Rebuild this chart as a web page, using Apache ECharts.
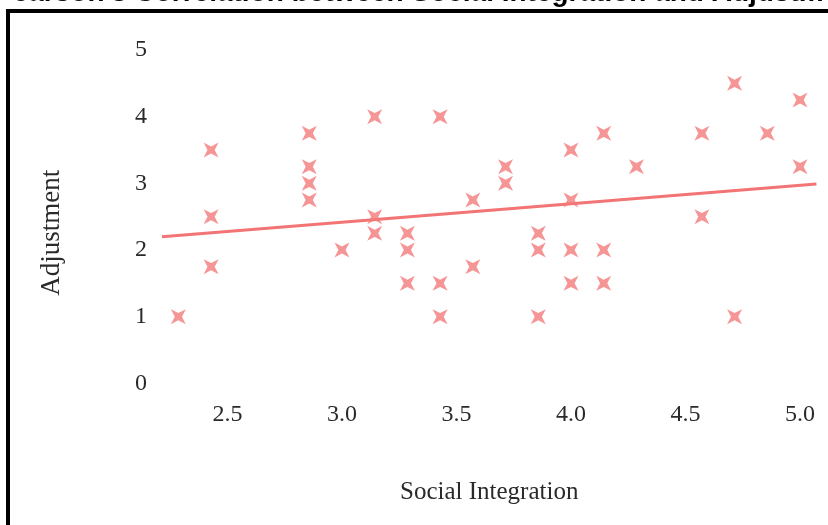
<!DOCTYPE html>
<html>
<head>
<meta charset="utf-8">
<script src="https://cdn.jsdelivr.net/npm/echarts@6/dist/echarts.min.js"></script>
<style>
  html, body { margin: 0; padding: 0; background: #ffffff; }
  #scatter { width: 828px; height: 525px; }
</style>
</head>
<body>
<div id="scatter"></div>
<script>
// social integration scores (steps of 1/7) and adjustment scores
var socialIntegration = [
  16/7, 17/7, 17/7, 17/7, 20/7, 20/7, 20/7, 20/7, 21/7, 22/7,
  22/7, 22/7, 23/7, 23/7, 23/7, 24/7, 24/7, 24/7, 25/7, 25/7,
  26/7, 26/7, 27/7, 27/7, 27/7, 28/7, 28/7, 28/7, 28/7, 29/7,
  29/7, 29/7, 30/7, 32/7, 32/7, 33/7, 33/7, 34/7, 35/7, 35/7
];
var adjustment = [
  1.0, 3.5, 2.5, 1.75, 3.75, 3.25, 3.0, 2.75, 2.0, 4.0,
  2.5, 2.25, 2.25, 2.0, 1.5, 4.0, 1.5, 1.0, 2.75, 1.75,
  3.25, 3.0, 2.25, 2.0, 1.0, 3.5, 2.75, 2.0, 1.5, 3.75,
  2.0, 1.5, 3.25, 3.75, 2.5, 4.5, 1.0, 3.75, 4.25, 3.25
];
// fitted line, read at both ends of the x domain
var fitX = [15.5/7, 35.5/7];
var fitY = [2.20, 2.99];
var xTicks = [2.5, 3.0, 3.5, 4.0, 4.5, 5.0];

var points = [];
for (var i = 0; i < socialIntegration.length; i++) {
  points.push([socialIntegration[i], adjustment[i]]);
}
var fitLine = [[fitX[0], fitY[0]], [fitX[1], fitY[1]]];

// four pointed star turned 45 degrees, like a fat x
var starPath = 'path://M0,0 L10,5.2 L20,0 L14.8,10 L20,20 L10,14.8 L0,20 L5.2,10 Z';
var serif = '"Liberation Serif", "DejaVu Serif", serif';

var chart = echarts.init(document.getElementById('scatter'));
chart.setOption({
  animation: false,
  title: {
    text: "Pearson's Correlation between Social Integration and Adjustment",
    left: -6,
    top: -21,
    padding: 0,
    textStyle: {
      fontFamily: '"Liberation Sans", Arial, sans-serif',
      fontWeight: 'bold',
      fontSize: 28,
      color: '#000000'
    }
  },
  graphic: [
    {
      type: 'rect',
      shape: { x: 8, y: 11, width: 900, height: 600 },
      style: { fill: 'none', stroke: '#000000', lineWidth: 4 },
      z: 100
    }
  ],
  grid: {
    left: 162,
    top: 50,
    width: 654.4,
    height: 333.3
  },
  xAxis: {
    type: 'value',
    min: fitX[0],
    max: fitX[1],
    name: 'Social Integration',
    nameLocation: 'middle',
    nameGap: 97,
    nameTextStyle: { fontFamily: serif, fontSize: 25, color: '#2a2a2a' },
    axisLine: { show: false },
    axisTick: { show: false },
    splitLine: { show: false },
    axisLabel: {
      customValues: xTicks,
      margin: 19,
      fontFamily: serif,
      fontSize: 24,
      color: '#2a2a2a',
      formatter: function (value) {
        return Number(value).toFixed(1);
      }
    }
  },
  yAxis: {
    type: 'value',
    min: 0,
    max: 5,
    interval: 1,
    name: 'Adjustment',
    nameLocation: 'middle',
    nameGap: 97,
    nameRotate: 90,
    nameTextStyle: {
      fontFamily: serif,
      fontSize: 27,
      color: '#2a2a2a',
      padding: [0, 32, 0, 0]
    },
    axisLine: { show: false },
    axisTick: { show: false },
    splitLine: { show: false },
    axisLabel: {
      margin: 15,
      fontFamily: serif,
      fontSize: 24,
      color: '#2a2a2a'
    }
  },
  series: [
    {
      name: 'Fit',
      type: 'line',
      data: fitLine,
      symbol: 'none',
      z: 1,
      lineStyle: { color: '#F27474', width: 3 }
    },
    {
      name: 'Students',
      type: 'scatter',
      data: points,
      symbol: starPath,
      symbolSize: 15,
      z: 2,
      itemStyle: { color: '#F27A7A' }
    }
  ]
});
</script>
</body>
</html>
